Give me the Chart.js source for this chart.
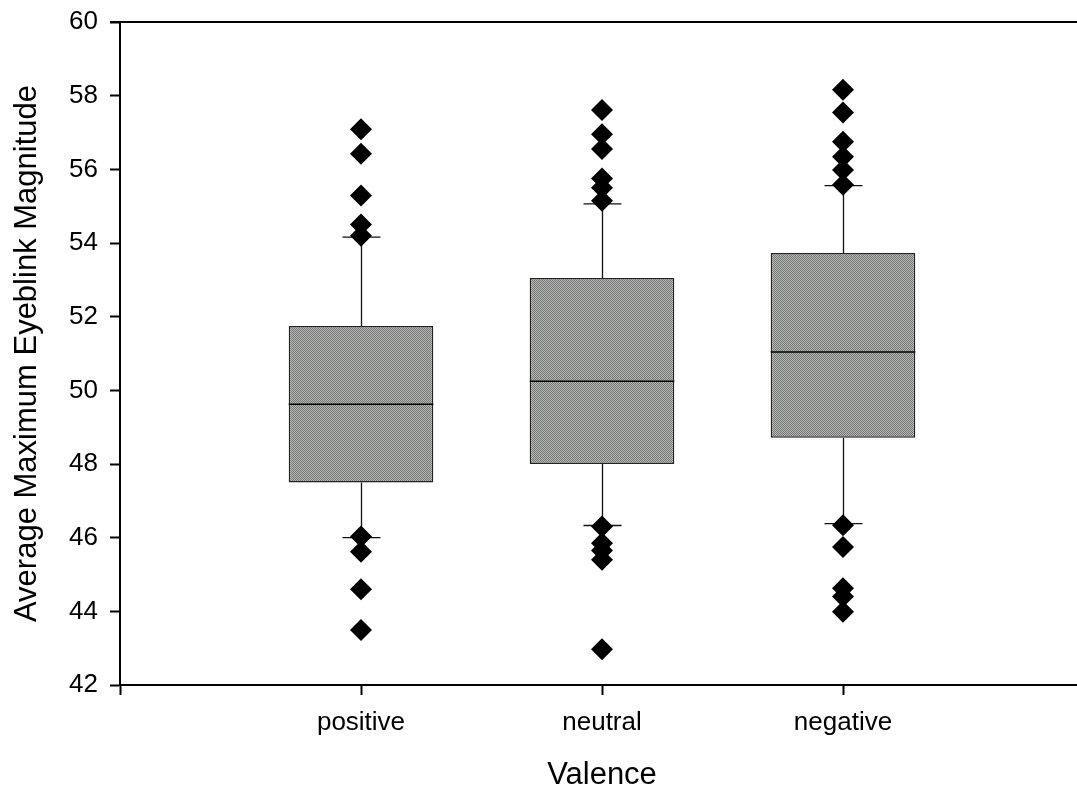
<!DOCTYPE html>
<html>
<head>
<meta charset="utf-8">
<title>Average Maximum Eyeblink Magnitude by Valence</title>
<script src="https://cdn.jsdelivr.net/npm/chart.js@4.4.1/dist/chart.umd.min.js"></script>
<style>
  html, body { margin: 0; padding: 0; background: #fff; overflow: hidden; }
  /* the plot runs a few pixels past the right edge in the original */
  #wrap { width: 1077px; height: 791px; overflow: hidden; }
</style>
</head>
<body>
<div id="wrap"><canvas id="chart" width="1084" height="791"></canvas></div>
<script>
// empty slots at each end keep the boxes spaced like the original
const categories = ["", "positive", "neutral", "negative", ""];

const q1 = [null, 47.5, 48.0, 48.71, null];
const q3 = [null, 51.75, 53.05, 53.73, null];
const medians = [null, 49.62, 50.25, 51.04, null];
const whiskerLow = [null, 46.0, 46.33, 46.38, null];
const whiskerHigh = [null, 54.16, 55.06, 55.56, null];

const positiveOutliers = [57.09, 56.42, 55.29, 54.5, 54.2, 46.03, 45.62, 44.6, 43.49];
const neutralOutliers = [57.61, 56.95, 56.55, 55.75, 55.5, 55.15, 46.3, 45.85, 45.65, 45.4, 42.97];
const negativeOutliers = [58.16, 57.54, 56.75, 56.34, 55.98, 55.58, 46.34, 45.75, 44.63, 44.4, 43.99];

const yTicks = { min: 42, max: 60, step: 2 };

const FONT = "'Liberation Sans', Arial, sans-serif";

// dotted grey fill like the scanned box shading
const makePattern = () => {
  const c = document.createElement("canvas");
  c.width = 2;
  c.height = 2;
  const g = c.getContext("2d");
  g.fillStyle = "#b6b9b6";
  g.fillRect(0, 0, 2, 2);
  g.fillStyle = "#737773";
  g.fillRect(0, 0, 1, 1);
  g.fillRect(1, 1, 1, 1);
  return document.getElementById("chart").getContext("2d").createPattern(c, "repeat");
};

const outlierPoints = [
  ...positiveOutliers.map((y) => ({ x: "positive", y })),
  ...neutralOutliers.map((y) => ({ x: "neutral", y })),
  ...negativeOutliers.map((y) => ({ x: "negative", y })),
];

const boxExtras = {
  id: "boxExtras",
  beforeDatasetsDraw(chart) {
    const { ctx, scales: { x, y } } = chart;
    ctx.save();
    ctx.strokeStyle = "#111";
    ctx.lineWidth = 1.3;
    categories.forEach((cat, i) => {
      if (medians[i] === null) return;
      const px = Math.round(x.getPixelForValue(i)) + 0.5;
      const hi = y.getPixelForValue(whiskerHigh[i]);
      const lo = y.getPixelForValue(whiskerLow[i]);
      ctx.beginPath();
      // upper whisker + cap
      ctx.moveTo(px, y.getPixelForValue(q3[i]));
      ctx.lineTo(px, hi);
      ctx.moveTo(px - 19, hi);
      ctx.lineTo(px + 19, hi);
      // lower whisker + cap
      ctx.moveTo(px, y.getPixelForValue(q1[i]));
      ctx.lineTo(px, lo);
      ctx.moveTo(px - 19, lo);
      ctx.lineTo(px + 19, lo);
      ctx.stroke();
    });
    ctx.restore();
  },
  afterDatasetsDraw(chart) {
    const { ctx, scales: { y } } = chart;
    const meta = chart.getDatasetMeta(0);
    ctx.save();
    ctx.strokeStyle = "#000";
    ctx.lineWidth = 1.5;
    categories.forEach((cat, i) => {
      if (medians[i] === null) return;
      const bar = meta.data[i];
      const half = bar.width / 2;
      const py = y.getPixelForValue(medians[i]);
      ctx.beginPath();
      ctx.moveTo(bar.x - half, py);
      ctx.lineTo(bar.x + half, py);
      ctx.stroke();
    });
    // top frame line
    const area = chart.chartArea;
    ctx.lineWidth = 2;
    ctx.beginPath();
    ctx.moveTo(area.left - 10, area.top);
    ctx.lineTo(chart.width, area.top);
    ctx.stroke();
    ctx.restore();
  },
};

new Chart(document.getElementById("chart"), {
  type: "bar",
  data: {
    labels: categories,
    datasets: [
      {
        type: "bar",
        data: categories.map((c, i) => (q1[i] === null ? null : [q1[i], q3[i]])),
        backgroundColor: makePattern(),
        borderColor: "#222",
        borderWidth: 1.5,
        borderSkipped: false,
        barPercentage: 0.6,
        categoryPercentage: 1,
        order: 2,
      },
      {
        type: "scatter",
        data: outlierPoints,
        pointStyle: "rectRot",
        pointRadius: 11,
        pointHoverRadius: 11,
        backgroundColor: "#000",
        borderColor: "#000",
        borderWidth: 0,
        showLine: false,
        clip: false,
        order: 1,
      },
    ],
  },
  options: {
    responsive: false,
    animation: false,
    layout: { autoPadding: false, padding: { top: 22, left: 0, right: 0, bottom: 0 } },
    plugins: {
      legend: { display: false },
      tooltip: { enabled: false },
    },
    scales: {
      x: {
        type: "category",
        offset: false,
        afterFit: (scale) => {
          scale.height = 106;
          scale.paddingLeft = 0;
          scale.paddingRight = 0;
        },
        border: { color: "#000", width: 2 },
        grid: {
          offset: false,
          drawOnChartArea: false,
          tickLength: 10,
          tickWidth: 2,
          tickColor: (ctx) => (ctx.index === categories.length - 1 ? "rgba(0,0,0,0)" : "#000"),
        },
        ticks: {
          autoSkip: false,
          maxRotation: 0,
          padding: 12,
          color: "#000",
          font: { family: FONT, size: 26 },
        },
        title: {
          display: true,
          text: "Valence",
          color: "#000",
          padding: { top: 0, bottom: 0 },
          font: { family: FONT, size: 31, lineHeight: 1 },
        },
      },
      y: {
        type: "linear",
        min: yTicks.min,
        max: yTicks.max,
        afterFit: (scale) => {
          scale.width = 120;
          scale.paddingTop = 0;
          scale.paddingBottom = 0;
        },
        border: { color: "#000", width: 2 },
        grid: {
          drawOnChartArea: false,
          tickLength: 10,
          tickWidth: 2,
          tickColor: "#000",
        },
        ticks: {
          stepSize: yTicks.step,
          padding: 12,
          color: "#000",
          font: { family: FONT, size: 26 },
        },
        title: {
          display: true,
          text: "Average Maximum Eyeblink Magnitude",
          color: "#000",
          padding: { top: 12, bottom: 0 },
          font: { family: FONT, size: 31, lineHeight: 1 },
        },
      },
    },
  },
  plugins: [boxExtras],
});
</script>
</body>
</html>
